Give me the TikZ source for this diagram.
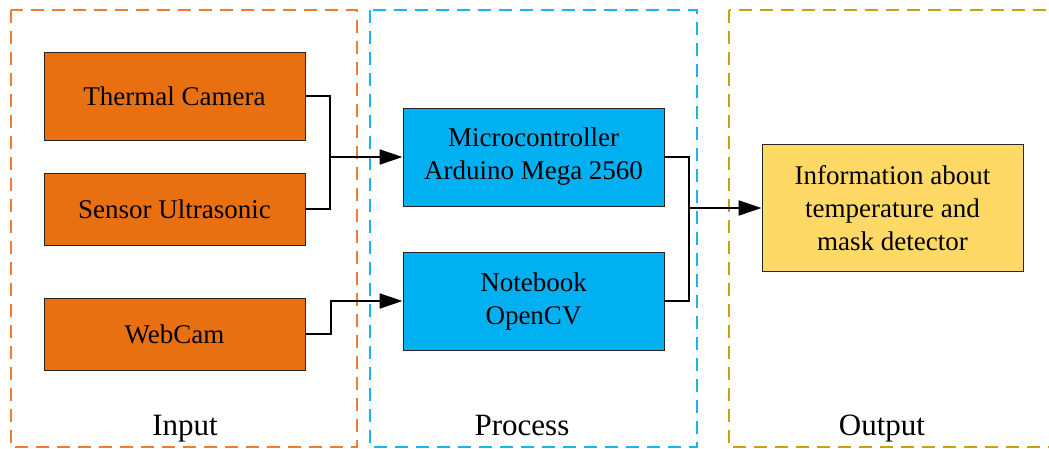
\documentclass[tikz,border=0pt]{standalone}
\usepackage{fontspec}
\setmainfont{Liberation Serif}
\usetikzlibrary{arrows.meta}
\definecolor{inorange}{HTML}{ED7D31}
\definecolor{procblue}{HTML}{1AB4EE}
\definecolor{outgold}{HTML}{C9A010}
\definecolor{boxorange}{HTML}{E97010}
\definecolor{boxblue}{HTML}{00B0F0}
\definecolor{boxyellow}{HTML}{FFD966}
\tikzset{
  stage/.style={line width=1.5pt, dash pattern=on 13pt off 8pt},
  block/.style={draw=black!85, line width=1pt, minimum width=261pt, align=center,
    font=\fontsize{27}{33}\selectfont, inner sep=0pt},
  inblock/.style={block, fill=boxorange, minimum height=72pt},
  procblock/.style={block, fill=boxblue, minimum height=98pt},
  outblock/.style={block, fill=boxyellow, minimum height=127pt},
  link/.style={draw=black, line width=1.3pt},
  flow/.style={draw=black, line width=2pt, -{Triangle[length=23pt,width=15pt]}},
  stagelabel/.style={font=\fontsize{31}{33}\selectfont, anchor=base}
}
\begin{document}
\begin{tikzpicture}[x=1pt,y=-1pt]
\useasboundingbox (0,0) rectangle (1049,448);
\clip (0,0) rectangle (1049,448);
% stage frames
\draw[stage, inorange] (11,10) rectangle (357,447);
\draw[stage, procblue] (370,10) rectangle (697,447);
\draw[stage, outgold] (729,10) rectangle (1070,447);
% stage labels
\node[stagelabel] (lin) at (185,435) {Input};
\node[stagelabel] (lproc) at (522,435) {Process};
\node[stagelabel] (lout) at (882,435) {Output};
% input blocks
\node[inblock, minimum height=88pt] (thermal) at (174.5,96) {Thermal Camera};
\node[inblock] (sensor) at (174.5,209) {Sensor Ultrasonic};
\node[inblock] (webcam) at (174.5,334) {WebCam};
% process blocks
\node[procblock] (micro) at (533.5,157) {Microcontroller\\Arduino Mega 2560};
\node[procblock] (notebook) at (533.5,301) {Notebook\\OpenCV};
% output block
\node[outblock] (info) at (892.5,208) {Information about\\temperature and\\mask detector};
% junctions
\coordinate (j1) at (330,157);
\coordinate (j2) at (689,208);
% connectors
\draw[link] (thermal.east) -| (j1) |- (sensor.east);
\draw[flow] (j1) -- (micro.west);
\draw[flow] (webcam.east) -- ++(25,0) |- (notebook.west);
\draw[link] (micro.east) -| (j2) |- (notebook.east);
\draw[flow] (j2) -- (info.west);
\end{tikzpicture}
\end{document}
